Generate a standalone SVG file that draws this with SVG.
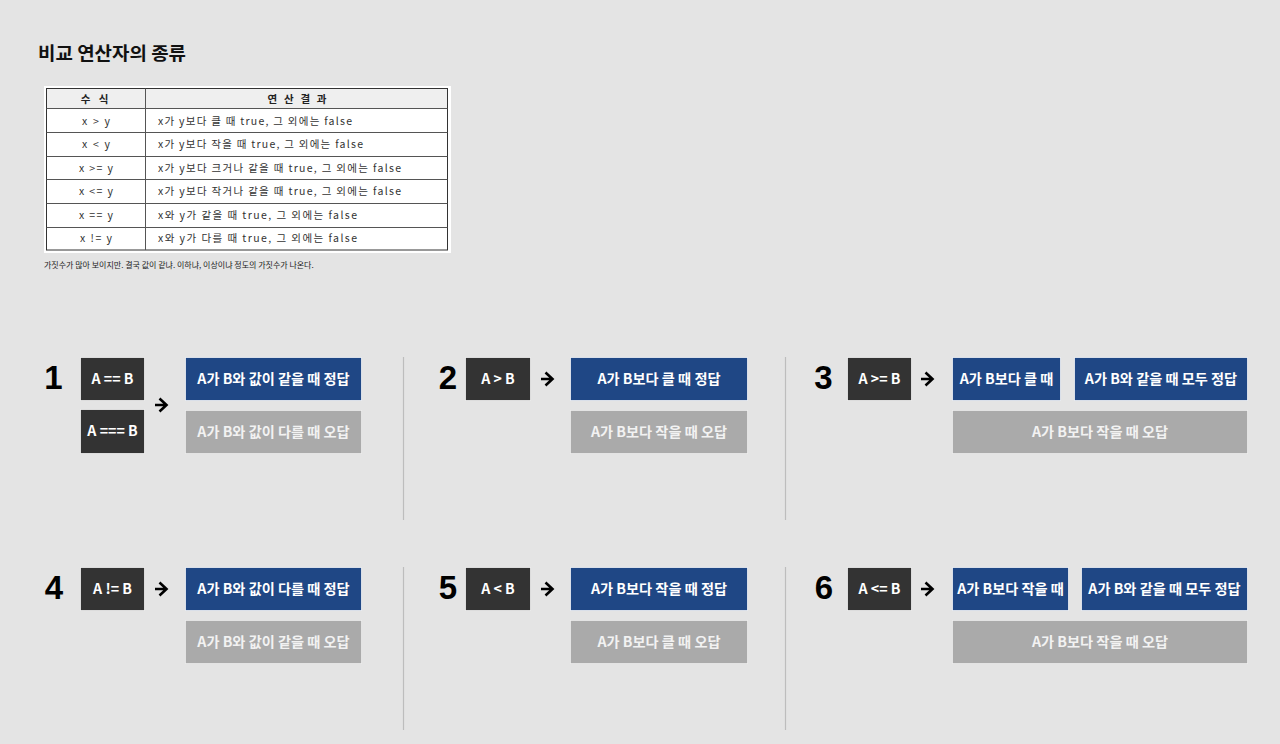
<svg xmlns="http://www.w3.org/2000/svg" width="1280" height="744" viewBox="0 0 1280 744">
<style>
.bg{fill:#e4e4e4}
.op{fill:#333333;stroke:#ffffff;stroke-opacity:0.7;stroke-width:1}
.ok{fill:#1f4785;stroke:#ffffff;stroke-opacity:0.7;stroke-width:1}
.ng{fill:#aaaaaa;stroke:#ffffff;stroke-opacity:0.5;stroke-width:1}
.bt{font-family:"Noto Sans CJK KR","Noto Sans",sans-serif;font-weight:700;font-size:14.2px;fill:#ffffff;text-anchor:middle}
.ngt{fill:#f2f2f2}
.num{font-family:"Liberation Sans","Noto Sans",sans-serif;font-weight:700;font-size:33px;fill:#000;text-anchor:middle}
.arr{fill:none;stroke:#000;stroke-width:2.6;stroke-linecap:butt;stroke-linejoin:miter}
.div{stroke:#bdbdbd;stroke-width:1.2}
.tt{font-family:"Noto Sans CJK KR","Liberation Sans",sans-serif;font-size:10.5px;fill:#333}
.th{font-family:"Noto Sans CJK KR","Liberation Sans",sans-serif;font-size:10.5px;font-weight:700;fill:#222;text-anchor:middle}
.tl{stroke:#555;stroke-width:1}
</style>
<rect class="bg" x="0" y="0" width="1280" height="744"/>

<g id="title">
<text x="38" y="60" font-family="'Noto Sans CJK KR',sans-serif" font-weight="700" font-size="18" fill="#111" textLength="148" lengthAdjust="spacingAndGlyphs">비교 연산자의 종류</text>
</g>

<g id="table">
<rect x="44" y="86" width="407" height="167" fill="#ffffff"/>
<rect x="46.5" y="88.5" width="401" height="20" fill="#efefef"/>
<rect x="46.5" y="88.5" width="401" height="161.5" fill="none" stroke="#333" stroke-width="1"/>
<line class="tl" x1="145.5" y1="88.5" x2="145.5" y2="250"/>
<line class="tl" x1="46.5" y1="108.5" x2="447.5" y2="108.5"/>
<line class="tl" x1="46.5" y1="132.5" x2="447.5" y2="132.5"/>
<line class="tl" x1="46.5" y1="156.5" x2="447.5" y2="156.5"/>
<line class="tl" x1="46.5" y1="179.5" x2="447.5" y2="179.5"/>
<line class="tl" x1="46.5" y1="203.5" x2="447.5" y2="203.5"/>
<line class="tl" x1="46.5" y1="227.5" x2="447.5" y2="227.5"/>
<text class="th" x="96" y="102.5" letter-spacing="3">수 식</text>
<text class="th" x="297" y="102.5" textLength="59" lengthAdjust="spacing">연 산 결 과</text>
<g class="tt">
<text x="82" y="124.5" textLength="28" lengthAdjust="spacing">x &gt; y</text>
<text x="82" y="148" textLength="28" lengthAdjust="spacing">x &lt; y</text>
<text x="79" y="171.5" textLength="34" lengthAdjust="spacing">x &gt;= y</text>
<text x="79" y="195" textLength="34" lengthAdjust="spacing">x &lt;= y</text>
<text x="79" y="218.5" textLength="34" lengthAdjust="spacing">x == y</text>
<text x="80" y="242" textLength="32" lengthAdjust="spacing">x != y</text>
</g>
<g class="tt">
<text x="158" y="124.5" textLength="194" lengthAdjust="spacing">x가 y보다 클 때 true, 그 외에는 false</text>
<text x="158" y="148" textLength="205" lengthAdjust="spacing">x가 y보다 작을 때 true, 그 외에는 false</text>
<text x="158" y="171.5" textLength="243" lengthAdjust="spacing">x가 y보다 크거나 같을 때 true, 그 외에는 false</text>
<text x="158" y="195" textLength="243" lengthAdjust="spacing">x가 y보다 작거나 같을 때 true, 그 외에는 false</text>
<text x="158" y="218.5" textLength="199" lengthAdjust="spacing">x와 y가 같을 때 true,  그 외에는 false</text>
<text x="158" y="242" textLength="199" lengthAdjust="spacing">x와 y가 다를 때 true,  그 외에는 false</text>
</g>
</g>

<g id="note">
<text x="44" y="268" font-family="'Noto Sans CJK KR',sans-serif" font-size="8" fill="#222">가짓수가 많아 보이지만. 결국 값이 같냐. 이하냐, 이상이냐 정도의 가짓수가 나온다.</text>
</g>

<g id="dividers">
<line class="div" x1="403.5" y1="357" x2="403.5" y2="520"/>
<line class="div" x1="785.5" y1="357" x2="785.5" y2="520"/>
<line class="div" x1="403.5" y1="567" x2="403.5" y2="730"/>
<line class="div" x1="785.5" y1="567" x2="785.5" y2="730"/>
</g>

<g id="connectors">
<path class="arr" d="M155 405 H166 M159.5 398.5 L166.5 405 L159.5 411.5"/>
<path class="arr" d="M541 379 H552 M545.5 372.5 L552.5 379 L545.5 385.5"/>
<path class="arr" d="M921 379 H932 M925.5 372.5 L932.5 379 L925.5 385.5"/>
<path class="arr" d="M155 589 H166 M159.5 582.5 L166.5 589 L159.5 595.5"/>
<path class="arr" d="M541 589 H552 M545.5 582.5 L552.5 589 L545.5 595.5"/>
<path class="arr" d="M921 589 H932 M925.5 582.5 L932.5 589 L925.5 595.5"/>
</g>

<g id="sec1">
<text class="num" x="53.5" y="389">1</text>
<rect class="op" x="80.5" y="357.5" width="64" height="43"/>
<text class="bt" x="112.5" y="384">A == B</text>
<rect class="op" x="80.5" y="409.5" width="64" height="44"/>
<text class="bt" x="112.5" y="436">A === B</text>
<rect class="ok" x="185.5" y="357.5" width="176" height="43"/>
<text class="bt" x="273.5" y="384">A가 B와 값이 같을 때 정답</text>
<rect class="ng" x="185.5" y="410.5" width="176" height="43"/>
<text class="bt ngt" x="273.5" y="437">A가 B와 값이 다를 때 오답</text>
</g>

<g id="sec2">
<text class="num" x="448" y="389">2</text>
<rect class="op" x="465.5" y="357.5" width="65" height="43"/>
<text class="bt" x="498" y="384">A &gt; B</text>
<rect class="ok" x="570.5" y="357.5" width="177" height="43"/>
<text class="bt" x="659" y="384">A가 B보다 클 때 정답</text>
<rect class="ng" x="570.5" y="410.5" width="177" height="43"/>
<text class="bt ngt" x="659" y="437">A가 B보다 작을 때 오답</text>
</g>

<g id="sec3">
<text class="num" x="823.5" y="389">3</text>
<rect class="op" x="847.5" y="357.5" width="64" height="43"/>
<text class="bt" x="879.5" y="384">A &gt;= B</text>
<rect class="ok" x="952.5" y="357.5" width="108" height="43"/>
<text class="bt" x="1006.5" y="384">A가 B보다 클 때</text>
<rect class="ok" x="1074.5" y="357.5" width="173" height="43"/>
<text class="bt" x="1161" y="384">A가 B와 같을 때 모두 정답</text>
<rect class="ng" x="952.5" y="410.5" width="295" height="43"/>
<text class="bt ngt" x="1100" y="437">A가 B보다 작을 때 오답</text>
</g>

<g id="sec4">
<text class="num" x="54" y="599">4</text>
<rect class="op" x="80.5" y="567.5" width="64" height="43"/>
<text class="bt" x="112.5" y="594">A != B</text>
<rect class="ok" x="185.5" y="567.5" width="176" height="43"/>
<text class="bt" x="273.5" y="594">A가 B와 값이 다를 때 정답</text>
<rect class="ng" x="185.5" y="620.5" width="176" height="43"/>
<text class="bt ngt" x="273.5" y="647">A가 B와 값이 같을 때 오답</text>
</g>

<g id="sec5">
<text class="num" x="448" y="599">5</text>
<rect class="op" x="465.5" y="567.5" width="65" height="43"/>
<text class="bt" x="498" y="594">A &lt; B</text>
<rect class="ok" x="570.5" y="567.5" width="177" height="43"/>
<text class="bt" x="659" y="594">A가 B보다 작을 때 정답</text>
<rect class="ng" x="570.5" y="620.5" width="177" height="43"/>
<text class="bt ngt" x="659" y="647">A가 B보다 클 때 오답</text>
</g>

<g id="sec6">
<text class="num" x="824" y="599">6</text>
<rect class="op" x="847.5" y="567.5" width="64" height="43"/>
<text class="bt" x="879.5" y="594">A &lt;= B</text>
<rect class="ok" x="952.5" y="567.5" width="116" height="43"/>
<text class="bt" x="1010.5" y="594">A가 B보다 작을 때</text>
<rect class="ok" x="1081.5" y="567.5" width="166" height="43"/>
<text class="bt" x="1164.5" y="594">A가 B와 같을 때 모두 정답</text>
<rect class="ng" x="952.5" y="620.5" width="295" height="43"/>
<text class="bt ngt" x="1100" y="647">A가 B보다 작을 때 오답</text>
</g>
</svg>
